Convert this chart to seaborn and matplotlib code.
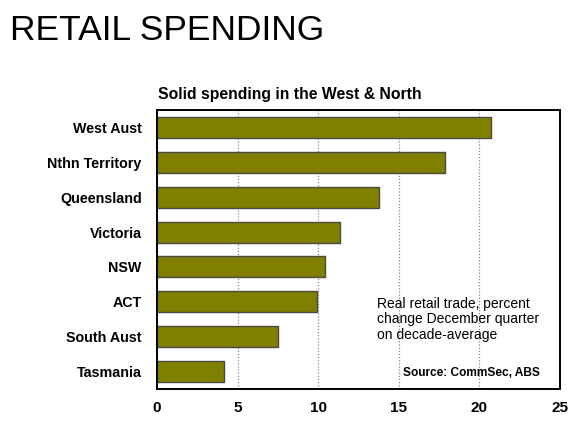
import matplotlib.pyplot as plt
import seaborn as sns
import pandas as pd

# dati
stati = ['West Aust', 'Nthn Territory', 'Queensland', 'Victoria', 'NSW', 'ACT', 'South Aust', 'Tasmania']
valori = [20.75, 17.85, 13.75, 11.35, 10.4, 9.95, 7.5, 4.15]

df = pd.DataFrame({'stato': stati, 'valore': valori})

sns.set_theme(style="white")
plt.rcParams['font.family'] = ['Liberation Sans', 'DejaVu Sans']
plt.rcParams['text.color'] = 'black'
plt.rcParams['xtick.color'] = 'black'
plt.rcParams['ytick.color'] = 'black'

fig = plt.figure(figsize=(5.8, 4.22), dpi=100)
fig.patch.set_facecolor('white')
ax = fig.add_axes([0.2707, 0.0782, 0.6948, 0.6611])

sns.barplot(data=df, x='valore', y='stato', orient='h', color='#808000',
            edgecolor='#4a4a40', linewidth=1.0, width=0.6, saturation=1, ax=ax)

ax.set_xlim(0, 25)
ax.set_ylim(7.5, -0.5)
ax.set_xticks([0, 5, 10, 15, 20, 25])
ax.set_xlabel('')
ax.set_ylabel('')
ax.xaxis.grid(True, linestyle=(0, (1, 1.5)), color='#888888', linewidth=0.9)
ax.set_axisbelow(True)

for s in ax.spines.values():
    s.set_color('black')
    s.set_linewidth(1.4)

ax.tick_params(axis='x', length=0, pad=9, labelsize=11)
ax.tick_params(axis='y', length=0, pad=11, labelsize=10.3)
for lab in ax.get_xticklabels() + ax.get_yticklabels():
    lab.set_fontweight('bold')

# piccoli segni tra le categorie
ax.set_yticks([i + 0.5 for i in range(7)], minor=True)
ax.tick_params(axis='y', which='minor', direction='in', length=5, color='#aaaaaa', width=1)

fig.text(0.017, 0.905, 'RETAIL SPENDING', fontsize=25.5, color='black', va='baseline')
fig.text(0.272, 0.765, 'Solid spending in the West & North', fontsize=11.3,
         fontweight='bold', va='baseline')

ax.text(0.545, 0.33, 'Real retail trade, percent\nchange December quarter\non decade-average',
        transform=ax.transAxes, fontsize=10, va='top', ha='left', linespacing=1.12)
ax.text(0.61, 0.045, 'Source: CommSec, ABS', transform=ax.transAxes,
        fontsize=8.6, fontweight='bold', va='baseline', ha='left')

fig.savefig('out.png', dpi=100)
